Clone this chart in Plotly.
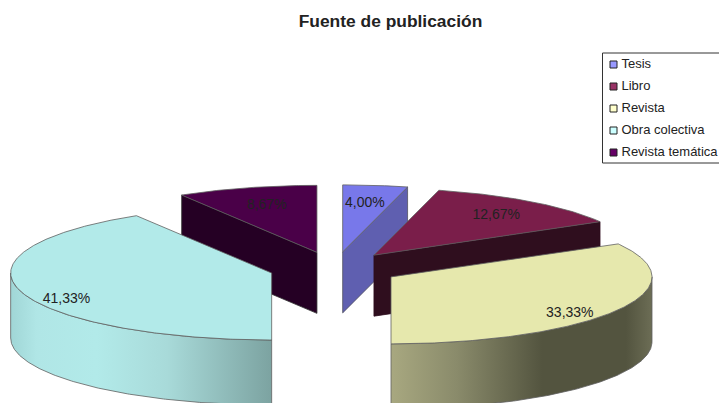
import math
import plotly.graph_objects as go

categories = ["Tesis", "Libro", "Revista", "Obra colectiva", "Revista temática"]
percent_values = [4.00, 12.67, 33.33, 41.33, 8.67]
chart_title = "Fuente de publicación"

top_colors = ["#7878EA", "#7A1E4A", "#E6E8AD", "#B2EAE9", "#4A0048"]
key_colors = ["#9999FF", "#993366", "#FFFFCC", "#CCFFFF", "#660066"]
wall_colors = ["#5F5FB0", "#2F0E1E", "#53543F", "#7FA5A3", "#250024"]
curved_scales = {
    2: [[0, "#A8A880"], [0.25, "#8A8B6B"], [0.58, "#53543F"], [0.9, "#53543F"], [1, "#6C6D55"]],
    3: [[0, "#A0D6D6"], [0.1, "#B0E6E6"], [0.33, "#B2EAE9"], [0.6, "#A8DAD9"], [1, "#7CA3A1"]],
}
label_nudge = [(-4, 5), (-4, 3), (-2, 10), (-4, 12), (6, 5)]

FONT = "Liberation Sans"
W, H = 719, 403
CX, CY = 334.5, 268.5      # pie centre in pixel-like axis units
RX, RY = 261, 67           # ellipse of the tilted pie
DEPTH_FLAT = 61
DEPTH_CURVED = 65
EXPLODE = 0.25
EDGE = "#606060"


def rim(cx, cy, deg, dy=0):
    t = math.radians(deg)
    return cx + RX * math.sin(t), cy - RY * math.cos(t) + dy


def arc(cx, cy, a0, a1, dy=0):
    n = max(2, int(abs(a1 - a0)) * 2)
    pts = [rim(cx, cy, a0 + (a1 - a0) * i / n, dy) for i in range(n + 1)]
    return [p[0] for p in pts], [p[1] for p in pts]


total = sum(percent_values)
slices = []
start = 0.0
for v in percent_values:
    end = start + v / total * 360
    mid = math.radians((start + end) / 2)
    slices.append((start, end,
                   CX + EXPLODE * RX * math.sin(mid),
                   CY - EXPLODE * RY * math.cos(mid)))
    start = end

fig = go.Figure()


def poly(xs, ys, fillcolor=None, gradient=None, line=EDGE, lw=0.8):
    kw = dict(fillgradient=gradient) if gradient else dict(fillcolor=fillcolor)
    fig.add_trace(go.Scatter(x=xs, y=ys, mode="lines", fill="toself",
                             line=dict(color=line, width=lw),
                             hoverinfo="skip", showlegend=False, **kw))


for i in [4, 0, 1, 3, 2]:
    a0, a1, ax, ay = slices[i]
    # radial wall, visible on the slices whose edge faces the viewer
    if i in (0, 1):
        rx, ry = rim(ax, ay, a1)
        poly([ax, rx, rx, ax, ax], [ay, ry, ry + DEPTH_FLAT, ay + DEPTH_FLAT, ay],
             fillcolor=wall_colors[i], line="#505060" if i == 0 else "#2F0E1E")
    if i == 4:
        rx, ry = rim(ax, ay, a0)
        poly([ax, rx, rx, ax, ax], [ay, ry, ry + DEPTH_FLAT, ay + DEPTH_FLAT, ay],
             fillcolor=wall_colors[i], line="#303030")
    # curved outer wall
    if i in curved_scales:
        lo, hi = (a0, 270) if i == 3 else (90, a1)
        tx, ty = arc(ax, ay, lo, hi)
        bx, by = arc(ax, ay, hi, lo, DEPTH_CURVED)
        poly(tx + bx + [tx[0]], ty + by + [ty[0]],
             gradient=dict(type="horizontal", colorscale=curved_scales[i]))
    # top face
    tx, ty = arc(ax, ay, a0, a1)
    poly([ax] + tx + [ax], [ay] + ty + [ay], fillcolor=top_colors[i])

# value labels, placed along each slice's middle angle
lx, ly, lt = [], [], []
for (a0, a1, ax, ay), v, (nx, ny) in zip(slices, percent_values, label_nudge):
    mid = math.radians((a0 + a1) / 2)
    lx.append(ax + 0.8 * RX * math.sin(mid) + nx)
    ly.append(ay - 0.8 * RY * math.cos(mid) + ny)
    lt.append(f"{v:.2f}%".replace(".", ","))
fig.add_trace(go.Scatter(x=lx, y=ly, mode="text", text=lt, textposition="middle center",
                         textfont=dict(family=FONT, size=14, color="#222222"),
                         hoverinfo="skip", showlegend=False))

# legend box with keys and names
LEG_X, LEG_TX, LEG_Y, LEG_STEP = 613.5, 621.5, 64.5, 22
for i, name in enumerate(categories):
    fig.add_trace(go.Scatter(x=[LEG_X], y=[LEG_Y + i * LEG_STEP], mode="markers",
                             marker=dict(symbol="square", size=7, color=key_colors[i],
                                         line=dict(color="#222222", width=1)),
                             name=name, hoverinfo="skip", showlegend=False))
    fig.add_trace(go.Scatter(x=[LEG_TX], y=[LEG_Y + i * LEG_STEP], mode="text",
                             text=[name], textposition="middle right",
                             textfont=dict(family=FONT, size=13, color="#222222"),
                             hoverinfo="skip", showlegend=False))

fig.update_layout(
    width=W, height=H,
    margin=dict(l=0, r=0, t=0, b=0),
    paper_bgcolor="white", plot_bgcolor="white",
    title=dict(text=f"<b>{chart_title}</b>", x=390.5 / W, xanchor="center",
               y=1 - 21 / H, yanchor="middle",
               font=dict(family=FONT, size=17.4, color="#222222")),
    xaxis=dict(range=[0, W], visible=False, fixedrange=True),
    yaxis=dict(range=[H, 0], visible=False, fixedrange=True),
    shapes=[dict(type="rect", xref="x", yref="y", x0=602.5, x1=730, y0=53, y1=163,
                 line=dict(color="#333333", width=1), layer="below")],
    showlegend=False,
)
fig.write_html("out.html", config={"displayModeBar": False},
               post_script="document.body.style.margin='0';document.documentElement.style.overflow='hidden';")
